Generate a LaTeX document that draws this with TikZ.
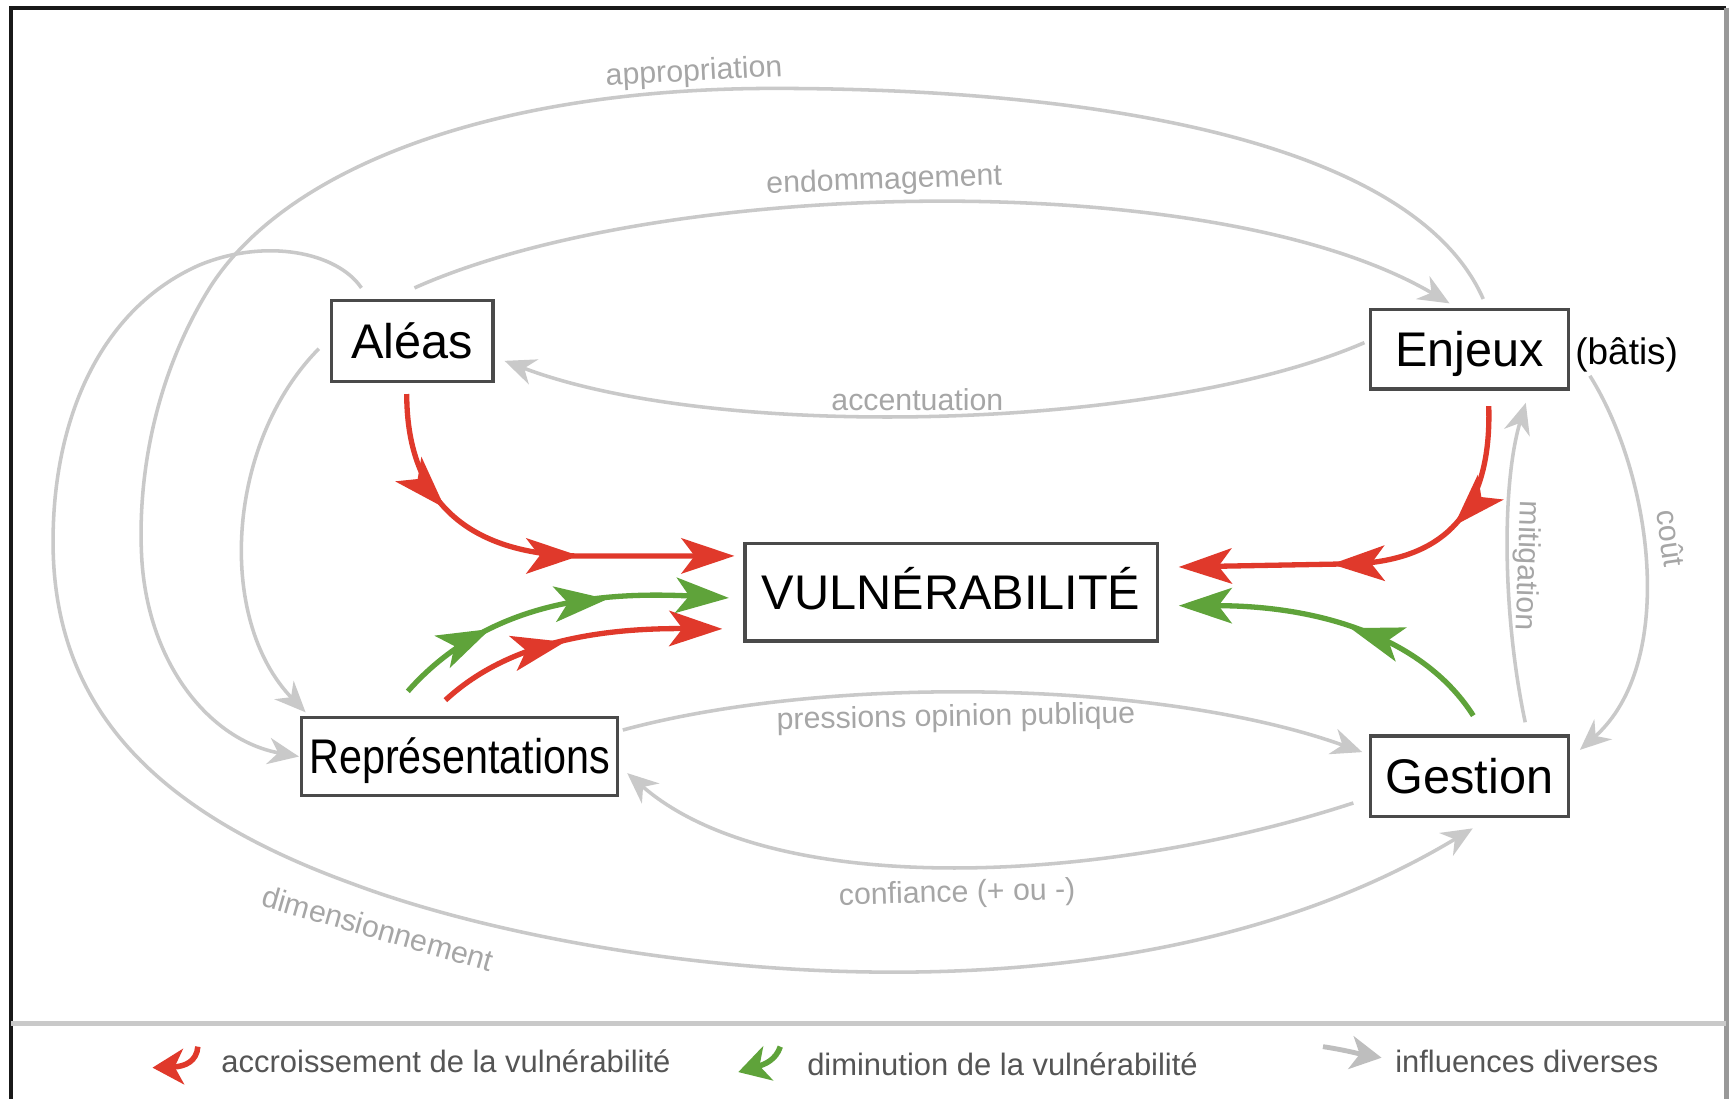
\documentclass[tikz,border=0pt]{standalone}
\usepackage{fontspec}
\usepackage{graphicx}
\setmainfont{Liberation Sans}
\usetikzlibrary{arrows.meta,decorations.markings,calc}
\definecolor{vred}{HTML}{E0392B}
\definecolor{vgreen}{HTML}{5FA33A}
\definecolor{lgray}{HTML}{C9C9C9}
\definecolor{tgray}{HTML}{A6A6A6}
\definecolor{bgray}{HTML}{4A4A4A}
\definecolor{legt}{HTML}{555555}
\newcommand\vhead{\arrow{Stealth[length=24pt,width=16pt,inset=6pt]}}
\begin{document}
\begin{tikzpicture}[x=0.5pt,y=-0.5pt,
  box/.style={draw=bgray, line width=1.5pt, fill=white, inner sep=0pt,
    text height=15.7pt, text depth=0pt, font=\fontsize{22}{26}\selectfont},
  infl/.style={draw=lgray, line width=1.6pt, -{Stealth[length=14pt,width=12pt,inset=4.5pt]}},
  lbl/.style={text=tgray, font=\fontsize{13.7}{16}\selectfont, inner sep=0pt},
  legtxt/.style={text=legt, font=\fontsize{14}{17}\selectfont, inner sep=0pt, anchor=west},
  ra/.style={draw=vred, line width=2.4pt, -{Stealth[length=24pt,width=16pt,inset=6pt]}, postaction={decorate}},
  ga/.style={draw=vgreen, line width=2.4pt, -{Stealth[length=24pt,width=16pt,inset=6pt]}, postaction={decorate}}
]
\fill[white] (0,0) rectangle (1568,994);
\useasboundingbox (0,0) rectangle (1568,994);
% frame
\draw[black!90, line width=2pt] (10,994) -- (10,7) -- (1562,7);
\draw[gray!80, line width=2pt] (1562,7) -- (1562,994);
\draw[lgray, line width=2pt] (10,926) -- (1562,926);

% nodes
\node[box, minimum width=73pt, minimum height=36.5pt] (aleas) at (373,308.5) {Aléas};
\node[box, minimum width=89.5pt, minimum height=36pt] (enjeux) at (1329.5,316) {Enjeux};
\node[anchor=west, font=\fontsize{16.7}{20}\selectfont, inner sep=0pt] (batis) at (1425,321) {(bâtis)};
\node[box, minimum width=186.5pt, minimum height=44pt] (vuln) at (860.5,536) {VULNÉRABILITÉ};
\node[box, minimum width=143pt, minimum height=35.5pt] (repr) at (416,684.5) {\scalebox{0.85}[1]{Représentations}};
\node[box, minimum width=89.5pt, minimum height=36.5pt] (gest) at (1329.5,702.5) {Gestion};

% gray influences
\draw[infl] ($(aleas.north)+(-46,-10)$) .. controls (305,228) and (240,215) .. (180,240)
  .. controls (90,280) and (48,380) .. (48,490)
  .. controls (48,640) and (140,735) .. (320,800)
  .. controls (520,875) and (1000,950) .. ($(gest.south)+(3,9)$);
\draw[infl] ($(enjeux.north)+(12.5,-8)$) .. controls (1280,130) and (1000,80) .. (700,80)
  .. controls (450,80) and (260,150) .. (190,260)
  .. controls (140,340) and (125,430) .. (128,500)
  .. controls (132,600) and (190,670) .. ($(repr.west)+(-1,0)$);
\draw[infl] ($(aleas.north)+(2,-10)$) .. controls (600,160) and (1100,150) .. ($(enjeux.north)+(-18,-4)$);
\draw[infl] ($(enjeux.west)+(-4,-6)$) .. controls (1050,390) and (650,400) .. ($(aleas.east)+(9,18)$);
\draw[infl] ($(aleas.west)+(-10,7)$) .. controls (205,400) and (195,560) .. ($(repr.north west)+(5,-3)$);
\draw[infl] ($(repr.east)+(3,-24)$) .. controls (750,610) and (1050,615) .. ($(gest.west)+(-6,-22)$);
\draw[infl] ($(gest.west)+(-14,24)$) .. controls (1000,800) and (700,815) .. ($(repr.east)+(7,15)$);
\draw[infl] ($(gest.north)+(50.5,-11)$) .. controls (1360,560) and (1358,440) .. ($(enjeux.south)+(51,11)$);
\draw[infl] ($(enjeux.east)+(18,24)$) .. controls (1495,430) and (1518,600) .. ($(gest.east)+(9,-24)$);

% gray labels
\node[lbl, rotate=3] (lapp) at (628,66) {appropriation};
\node[lbl, rotate=2] (lend) at (800,164) {endommagement};
\node[lbl] (lacc) at (830,362) {accentuation};
\node[lbl, rotate=1] (lpres) at (865,650) {pressions opinion publique};
\node[lbl, rotate=1.5] (lconf) at (866,809) {confiance (+ ou -)};
\node[lbl, rotate=-16] (ldim) at (342,840) {dimensionnement};
\node[lbl, rotate=-92] (lmit) at (1381,512) {mitigation};
\node[lbl, rotate=-82] (lcout) at (1512,487) {coût};

% red / green
\draw[ra, decoration={markings, mark=at position 0.29 with {\vhead}, mark=at position 0.635 with {\vhead}}]
  ($(aleas.south)+(-5,10)$) .. controls (368,450) and (420,500) .. (520,503) -- ($(vuln.west)+(-8,-33)$);
\draw[ra, decoration={markings, mark=at position 0.46 with {\vhead}}]
  ($(repr.north)+(-13,-14)$) .. controls (450,590) and (520,568) .. ($(vuln.west)+(-19,33)$);
\draw[ga, decoration={markings, mark=at position 0.30 with {\vhead}, mark=at position 0.65 with {\vhead}}]
  ($(repr.north)+(-47,-22)$) .. controls (440,545) and (540,535) .. ($(vuln.west)+(-13,5)$);
\draw[ra, decoration={markings, mark=at position 0.31 with {\vhead}, mark=at position 0.63 with {\vhead}}]
  ($(enjeux.south)+(17.5,14)$) .. controls (1350,470) and (1300,505) .. (1230,510) -- ($(vuln.east)+(18,-23)$);
\draw[ga, decoration={markings, mark=at position 0.47 with {\vhead}}]
  ($(gest.north)+(3.5,-17)$) .. controls (1290,580) and (1200,548) .. ($(vuln.east)+(18,12)$);

% legend
\node[legtxt] (l1) at (200,960) {accroissement de la vulnérabilité};
\node[legtxt] (l2) at (730,963) {diminution de la vulnérabilité};
\node[legtxt] (l3) at (1262,960) {influences diverses};
\draw[draw=vred, line width=2.5pt, -{Stealth[length=14pt,width=16pt,inset=4pt]}]
  ($(l1.west)+(-21,-13)$) .. controls ($(l1.west)+(-22,0)$) and ($(l1.west)+(-32,5)$) .. ($(l1.west)+(-62,6)$);
\draw[draw=vgreen, line width=2.5pt, -{Stealth[length=14pt,width=16pt,inset=4pt]}]
  ($(l2.west)+(-24,-16)$) .. controls ($(l2.west)+(-28,-4)$) and ($(l2.west)+(-38,0)$) .. ($(l2.west)+(-62,7)$);
\draw[draw=lgray!85!gray, line width=2.2pt, -{Stealth[length=14pt,width=15pt,inset=4pt]}]
  ($(l3.west)+(-65,-13)$) .. controls ($(l3.west)+(-45,-10)$) and ($(l3.west)+(-30,-6)$) .. ($(l3.west)+(-12,-3)$);
\end{tikzpicture}
\end{document}
